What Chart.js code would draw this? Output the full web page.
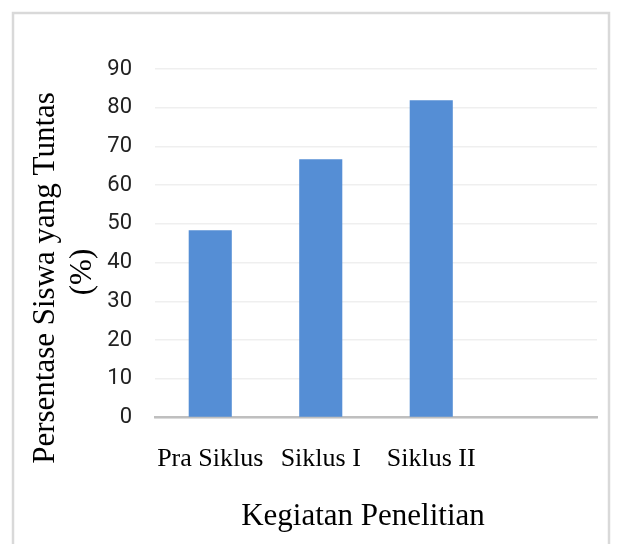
<!DOCTYPE html>
<html>
<head>
<meta charset="utf-8">
<script src="https://cdn.jsdelivr.net/npm/chart.js@4.4.0/dist/chart.umd.min.js"></script>
<style>
  html, body { margin: 0; padding: 0; background: #fff; }
  #wrap { width: 619px; height: 544px; }
</style>
</head>
<body>
<div id="wrap"><canvas id="grafik" width="619" height="544"></canvas></div>
<script>
const kategori = ['Pra Siklus', 'Siklus I', 'Siklus II', ''];
const persenTuntas = [48.4, 66.7, 81.9, null];
const tickY = [0, 10, 20, 30, 40, 50, 60, 70, 80, 90];

const judulY = ['Persentase Siswa yang Tuntas', '(%)'];
const judulX = 'Kegiatan Penelitian';

// bingkai + judul sumbu digambar manual (posisinya tidak di tengah sumbu)
const bingkaiJudul = {
  id: 'bingkaiJudul',
  beforeDraw(chart) {
    const c = chart.ctx;
    c.save();
    c.strokeStyle = '#d9d9d9';
    c.lineWidth = 2.5;
    c.strokeRect(13, 13, 596, 560);
    c.restore();
  },
  afterDraw(chart) {
    const c = chart.ctx;
    c.save();
    c.fillStyle = '#000';
    c.font = '31px "Liberation Serif", "Times New Roman", serif';
    c.textAlign = 'center';
    c.textBaseline = 'middle';
    c.fillText(judulX, 363, 517);
    c.translate(46, 278);
    c.rotate(-Math.PI / 2);
    c.fillText(judulY[0], 0, 0);
    c.fillText(judulY[1], 6, 37);
    c.restore();
  }
};

new Chart(document.getElementById('grafik'), {
  type: 'bar',
  data: {
    labels: kategori,
    datasets: [{
      data: persenTuntas,
      backgroundColor: '#558ed5',
      barPercentage: 0.39,
      categoryPercentage: 1
    }]
  },
  options: {
    responsive: false,
    animation: false,
    layout: { padding: { left: 0, right: 22, top: 69, bottom: 0 } },
    plugins: {
      legend: { display: false },
      tooltip: { enabled: false }
    },
    scales: {
      x: {
        grid: { display: false, drawTicks: false },
        border: { color: '#bfbfbf', width: 2.5 },
        ticks: {
          color: '#000',
          padding: 26,
          autoSkip: false,
          maxRotation: 0,
          minRotation: 0,
          font: { family: '"Liberation Serif", "Times New Roman", serif', size: 26 }
        },
        afterFit: s => { s.height = 544 - 417.6; }
      },
      y: {
        min: 0,
        max: 90,
        afterBuildTicks: s => { s.ticks = tickY.map(v => ({ value: v })); },
        grid: { color: '#efefef', lineWidth: 1.5, drawTicks: false },
        border: { display: false },
        ticks: {
          color: '#222',
          padding: 23,
          font: { family: '"Liberation Sans Narrow", "Roboto", sans-serif', size: 22 }
        },
        afterFit: s => { s.width = 155; }
      }
    }
  },
  plugins: [bingkaiJudul]
});
</script>
</body>
</html>
